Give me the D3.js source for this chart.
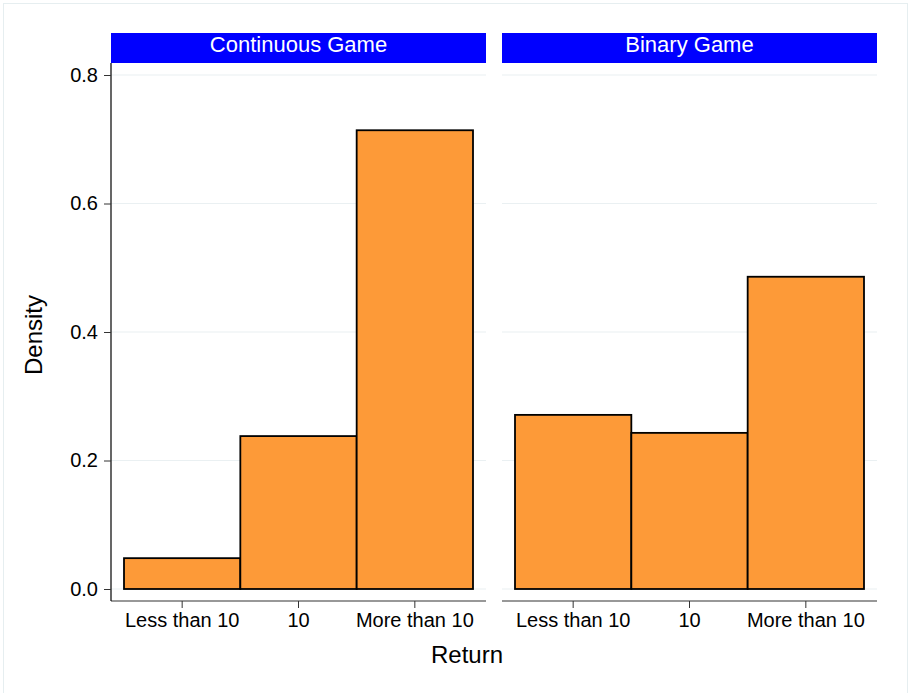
<!DOCTYPE html>
<html>
<head>
<meta charset="utf-8">
<script src="https://d3js.org/d3.v7.min.js"></script>
<style>
  body { margin: 0; background: #fff; }
  svg text { font-family: "Liberation Sans", Arial, Helvetica, sans-serif; fill: #000; }
</style>
</head>
<body>
<div id="chart"></div>
<script>
// data
const panels = ["Continuous Game", "Binary Game"];
const categories = ["Less than 10", "10", "More than 10"];
const continuousDensity = [0.048, 0.238, 0.714];
const binaryDensity = [0.271, 0.243, 0.486];
const yTicks = [0, 0.2, 0.4, 0.6, 0.8];

const seriesByPanel = [continuousDensity, binaryDensity];

const width = 911, height = 693;
const svg = d3.select("#chart").append("svg")
    .attr("width", width)
    .attr("height", height);

// outer frame
svg.append("rect")
    .attr("x", 3.5).attr("y", 3.5)
    .attr("width", 904).attr("height", 700)
    .attr("fill", "#fff")
    .attr("stroke", "#e6eef0");

const panelX = [111, 502];
const panelW = 375;
const stripTop = 33, stripH = 30;
const plotBottom = 601;

const y = d3.scaleLinear().domain([0, 0.8]).range([589, 75]);

panels.forEach((title, i) => {
    const g = svg.append("g").attr("transform", `translate(${panelX[i]},0)`);

    // strip
    g.append("rect")
        .attr("x", 0).attr("y", stripTop)
        .attr("width", panelW).attr("height", stripH)
        .attr("fill", "#0000ff");
    g.append("text")
        .attr("x", panelW / 2).attr("y", stripTop + 19)
        .attr("text-anchor", "middle")
        .style("font-size", "22px")
        .style("fill", "#fff")
        .text(title);

    // grid
    g.append("g").selectAll("line")
        .data(yTicks)
        .join("line")
        .attr("x1", 0).attr("x2", panelW)
        .attr("y1", d => y(d)).attr("y2", d => y(d))
        .attr("stroke", "#eaf0f2")
        .attr("stroke-width", 1.2);

    const x = d3.scaleBand().domain(categories).range([13, 362]).padding(0);

    // bars
    g.append("g").selectAll("rect")
        .data(seriesByPanel[i])
        .join("rect")
        .attr("x", (d, j) => x(categories[j]))
        .attr("width", x.bandwidth())
        .attr("y", d => y(d))
        .attr("height", d => y(0) - y(d))
        .attr("fill", "#fd9a38")
        .attr("stroke", "#000")
        .attr("stroke-width", 1.8);

    // x axis
    const xAxis = g.append("g")
        .attr("transform", `translate(0,${plotBottom})`)
        .call(d3.axisBottom(x).tickSize(7).tickPadding(5));
    xAxis.select(".domain").attr("d", `M0,0H${panelW}`).attr("stroke", "#333").attr("stroke-width", 1.2);
    xAxis.selectAll(".tick line").attr("stroke", "#333");
    xAxis.selectAll(".tick text").style("font-size", "20px");

    // y axis only on the first panel
    if (i === 0) {
        const yAxis = g.append("g")
            .call(d3.axisLeft(y).tickValues(yTicks).tickFormat(d3.format(".1f")).tickSize(7).tickPadding(6));
        yAxis.select(".domain").attr("d", `M0,${stripTop + stripH}V${plotBottom}`).attr("stroke", "#000").attr("stroke-width", 1.2);
        yAxis.selectAll(".tick line").attr("stroke", "#333");
        yAxis.selectAll(".tick text").style("font-size", "20px");
    }
});

// axis titles
svg.append("text")
    .attr("x", 467).attr("y", 663)
    .attr("text-anchor", "middle")
    .style("font-size", "24px")
    .text("Return");

svg.append("text")
    .attr("transform", "translate(42,335) rotate(-90)")
    .attr("text-anchor", "middle")
    .style("font-size", "24px")
    .text("Density");
</script>
</body>
</html>
